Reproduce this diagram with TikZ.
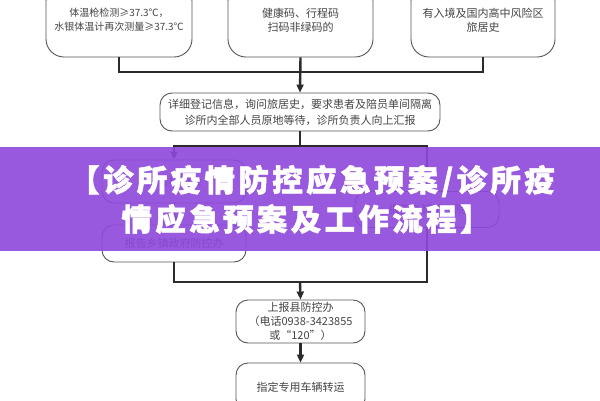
\documentclass[tikz,border=0pt]{standalone}
\usepackage{fontspec}
\usetikzlibrary{arrows.meta}
\setmainfont{Noto Sans CJK SC}
\newfontfamily\cjk{Noto Sans CJK SC}
\newfontfamily\cjktitle[LetterSpace=11,BoldFeatures={FakeBold=1.6}]{Noto Sans CJK SC}
\definecolor{txt}{HTML}{444444}
\definecolor{boxc}{HTML}{555555}
\definecolor{linec}{HTML}{2B2B2B}
\definecolor{band}{RGB}{143,72,220}
\begin{document}
\begin{tikzpicture}[x=1pt,y=-1pt,
  box/.style={draw=boxc, line width=0.9pt, rounded corners=12pt, align=center,
    text=txt, font=\cjk\fontsize{11}{14}\selectfont, inner sep=0pt, fill=white},
  conn/.style={draw=linec, line width=2.4pt},
  arr/.style={conn, -{Triangle[length=8pt,width=7pt]}},
  ttl/.style={text=white, font=\cjktitle\bfseries\fontsize{30.5}{38}\selectfont, inner sep=0pt}
]
\clip (0,0) rectangle (600,400);
\fill[white] (0,0) rectangle (600,400);

% top row
\node[box, rounded corners=18pt, minimum width=146pt, minimum height=74pt,
      font=\cjk\fontsize{10}{14}\selectfont] (t1) at (119,20)
  {体温枪检测≥37.3℃，\\水银体温计再次测量≥37.3℃};
\node[box, rounded corners=18pt, minimum width=145pt, minimum height=74pt] (t2) at (300.5,20)
  {健康码、行程码\\扫码非绿码的};
\node[box, rounded corners=18pt, minimum width=144pt, minimum height=74pt] (t3) at (483,20)
  {有入境及国内高中风险区\\旅居史};

% second
\node[box, minimum width=280pt, minimum height=38pt, font=\cjk\fontsize{11}{16}\selectfont] (b2) at (300,112)
  {详细登记信息，询问旅居史，要求患者及陪员单间隔离\\诊所内全部人员原地等待，诊所负责人向上汇报};

% branches
\node[box, minimum width=144pt, minimum height=43pt] (l1) at (174,181.5) {报告村委会};
\node[box, minimum width=144pt, minimum height=37pt] (l2) at (174,243.5) {报告乡镇政府防控办};
\node[box, minimum width=144pt, minimum height=36pt] (r1) at (427,209.5) {报告乡镇卫生院};

% lower
\node[box, minimum width=129pt, minimum height=43pt] (b3) at (300.5,321.5)
  {上报县防控办\\（电话0938-3423855\\或“120”）};
\node[box, minimum width=129pt, minimum height=48pt] (b4) at (300.5,387) {指定专用车辆转运};

% junctions
\coordinate (j1) at (300,72);
\coordinate (j2) at (300,146);
\coordinate (j3) at (300,282);

\draw[conn] (t1.south) |- (j1) -| (t3.south);
\draw[arr] (t2.south) -- (b2.north);
\draw[conn] (b2.south) -- (j2);
\draw[arr] (j2) -| (l1.north);
\draw[arr] (j2) -| (r1.north);
\draw[arr] (l1.south) -- (l2.north);
\draw[conn] (l2.south) |- (j3) -| (r1.south);
\draw[arr] (j3) -- (b3.north);
\draw[arr] (b3.south) -- (b4.north);

% title band
\fill[band, fill opacity=0.9] (0,147) rectangle (600,251);
\node[ttl] (ttl1) at (312,181) {【诊所疫情防控应急预案/诊所疫};
\node[ttl] (ttl2) at (306,219) {情应急预案及工作流程】};
\end{tikzpicture}
\end{document}
